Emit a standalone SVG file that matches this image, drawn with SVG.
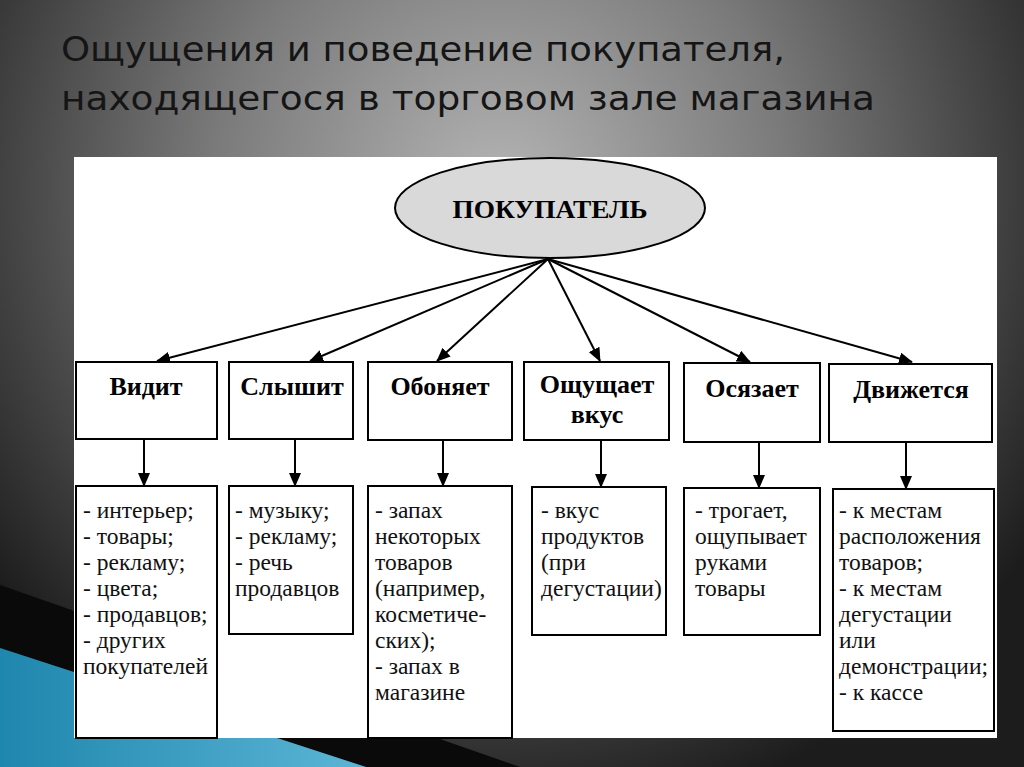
<svg xmlns="http://www.w3.org/2000/svg" width="1024" height="767" viewBox="0 0 1024 767">
<defs>
<radialGradient id="bg" gradientUnits="userSpaceOnUse" cx="500" cy="190" r="640">
<stop offset="0" stop-color="#b4b4b4"/>
<stop offset="0.45" stop-color="#7a7a7a"/>
<stop offset="1" stop-color="#1c1c1c"/>
</radialGradient>
<linearGradient id="blue" x1="0" y1="0" x2="1" y2="0">
<stop offset="0" stop-color="#1f86ad"/>
<stop offset="1" stop-color="#5cb6d6"/>
</linearGradient>
<marker id="ah" markerWidth="14" markerHeight="12" refX="13" refY="6" orient="auto" markerUnits="userSpaceOnUse">
<path d="M0,0 L14,6 L0,12 Z" fill="#000"/>
</marker>
<style>
.box{fill:#fff;stroke:#000;stroke-width:2}
.hd{font-family:"Liberation Serif",serif;font-weight:bold;font-size:26px;fill:#000;text-anchor:middle}
.bd{font-family:"Liberation Serif",serif;font-size:23.5px;fill:#111}
.ttl{font-family:"DejaVu Sans","Open Sans",sans-serif;font-size:33px;fill:#151515}
.cn line{stroke:#000;stroke-width:2;marker-end:url(#ah)}
</style>
</defs>
<rect width="1024" height="767" fill="url(#bg)"/>
<polygon points="0,585 520,767 366,767 0,648" fill="#0a0a0a"/>
<polygon points="0,648 366,767 0,767" fill="url(#blue)"/>
<g id="title">
<text class="ttl" x="61" y="61" textLength="724" lengthAdjust="spacingAndGlyphs">Ощущения и поведение покупателя,</text>
<text class="ttl" x="61" y="110" textLength="814" lengthAdjust="spacingAndGlyphs">находящегося в торговом зале магазина</text>
</g>
<rect x="74" y="157" width="923" height="581" fill="#fff"/>
<g id="buyer">
<ellipse cx="550" cy="208" rx="155" ry="50" fill="#d9d9d9" stroke="#000" stroke-width="2"/>
<text class="hd" x="550" y="218" textLength="195" lengthAdjust="spacingAndGlyphs">ПОКУПАТЕЛЬ</text>
</g>
<g class="cn" id="connectors">
<line x1="548" y1="259" x2="157" y2="361"/>
<line x1="548" y1="259" x2="310" y2="361"/>
<line x1="548" y1="259" x2="437" y2="361"/>
<line x1="548" y1="259" x2="600" y2="361"/>
<line x1="548" y1="259" x2="750" y2="362"/>
<line x1="548" y1="259" x2="912" y2="362"/>
<line x1="144" y1="439" x2="144" y2="486"/>
<line x1="295" y1="439" x2="295" y2="486"/>
<line x1="443" y1="440" x2="443" y2="486"/>
<line x1="601" y1="440" x2="601" y2="487"/>
<line x1="759" y1="442" x2="759" y2="488"/>
<line x1="906" y1="442" x2="906" y2="489"/>
</g>
<g id="n-vidit">
<rect class="box" x="76" y="362" width="141" height="77"/>
<text class="hd" x="146" y="395">Видит</text>
</g>
<g id="n-slyshit">
<rect class="box" x="229" y="362" width="124" height="77"/>
<text class="hd" x="292" y="395">Слышит</text>
</g>
<g id="n-obonyaet">
<rect class="box" x="368" y="362" width="144" height="78"/>
<text class="hd" x="440" y="395">Обоняет</text>
</g>
<g id="n-vkus">
<rect class="box" x="524" y="362" width="145" height="78"/>
<text class="hd" x="597" y="393">Ощущает</text>
<text class="hd" x="597" y="423">вкус</text>
</g>
<g id="n-osyazaet">
<rect class="box" x="684" y="363" width="136" height="79"/>
<text class="hd" x="752" y="397">Осязает</text>
</g>
<g id="n-dvizhetsya">
<rect class="box" x="829" y="364" width="163" height="78"/>
<text class="hd" x="911" y="398">Движется</text>
</g>
<g id="d-vidit">
<rect class="box" x="76" y="486" width="141" height="252"/>
<text class="bd" x="83" y="518">- интерьер;</text>
<text class="bd" x="83" y="544">- товары;</text>
<text class="bd" x="83" y="570">- рекламу;</text>
<text class="bd" x="83" y="596">- цвета;</text>
<text class="bd" x="83" y="622">- продавцов;</text>
<text class="bd" x="83" y="648">- других</text>
<text class="bd" x="83" y="674">покупателей</text>
</g>
<g id="d-slyshit">
<rect class="box" x="229" y="486" width="124" height="148"/>
<text class="bd" x="235" y="518">- музыку;</text>
<text class="bd" x="235" y="544">- рекламу;</text>
<text class="bd" x="235" y="570">- речь</text>
<text class="bd" x="235" y="596">продавцов</text>
</g>
<g id="d-obonyaet">
<rect class="box" x="368" y="486" width="144" height="252"/>
<text class="bd" x="375" y="518">- запах</text>
<text class="bd" x="375" y="544">некоторых</text>
<text class="bd" x="375" y="570">товаров</text>
<text class="bd" x="375" y="596">(например,</text>
<text class="bd" x="375" y="622">косметиче-</text>
<text class="bd" x="375" y="648">ских);</text>
<text class="bd" x="375" y="674">- запах в</text>
<text class="bd" x="375" y="700">магазине</text>
</g>
<g id="d-vkus">
<rect class="box" x="532" y="487" width="134" height="148"/>
<text class="bd" x="541" y="518">- вкус</text>
<text class="bd" x="541" y="544">продуктов</text>
<text class="bd" x="541" y="570">(при</text>
<text class="bd" x="541" y="596">дегустации)</text>
</g>
<g id="d-osyazaet">
<rect class="box" x="684" y="488" width="136" height="147"/>
<text class="bd" x="695" y="518">- трогает,</text>
<text class="bd" x="695" y="544">ощупывает</text>
<text class="bd" x="695" y="570">руками</text>
<text class="bd" x="695" y="596">товары</text>
</g>
<g id="d-dvizhetsya">
<rect class="box" x="833" y="489" width="161" height="242"/>
<text class="bd" x="839" y="518">- к местам</text>
<text class="bd" x="839" y="544">расположения</text>
<text class="bd" x="839" y="570">товаров;</text>
<text class="bd" x="839" y="596">- к местам</text>
<text class="bd" x="839" y="622">дегустации</text>
<text class="bd" x="839" y="648">или</text>
<text class="bd" x="839" y="674">демонстрации;</text>
<text class="bd" x="839" y="700">- к кассе</text>
</g>
</svg>
